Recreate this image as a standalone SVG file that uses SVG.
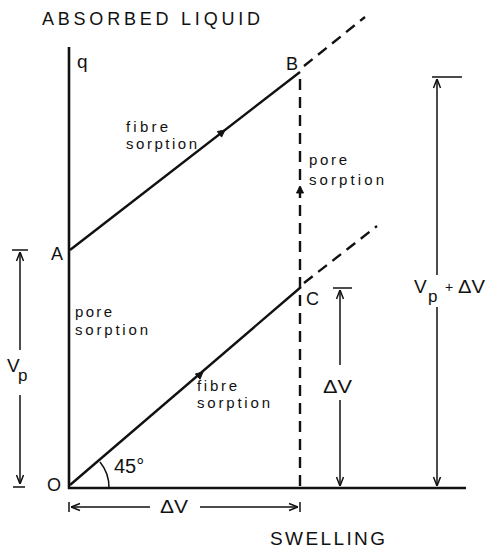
<svg xmlns="http://www.w3.org/2000/svg" width="485" height="549" viewBox="0 0 485 549">
<defs>
<style>
.t{font-family:"Liberation Sans",Arial,sans-serif;fill:#111}
.lb{font-family:"Liberation Sans",Arial,sans-serif;fill:#111;font-size:15px}
.ax{stroke:#111;stroke-width:2.6;fill:none;stroke-linecap:butt}
.ln{stroke:#111;stroke-width:2.4;fill:none}
.ds{stroke:#111;stroke-width:2.4;fill:none;stroke-dasharray:11 7}
.dm{stroke:#111;stroke-width:1.5;fill:none}
.ah{fill:#111;stroke:#111;stroke-width:1;stroke-linejoin:miter}
</style>
<marker id="arr" viewBox="0 0 10 10" refX="10" refY="5" markerWidth="10" markerHeight="10" markerUnits="userSpaceOnUse" orient="auto-start-reverse">
<path d="M1,1.5 L10,5 L1,8.5" fill="none" stroke="#111" stroke-width="1.5"/>
</marker>
</defs>
<rect width="485" height="549" fill="#fff"/>

<g id="titles">
<text class="t" x="42" y="25" font-size="18" textLength="218" lengthAdjust="spacing">ABSORBED LIQUID</text>
<text class="t" x="270" y="545" font-size="19" textLength="115" lengthAdjust="spacing">SWELLING</text>
</g>

<g id="axes">
<line class="ax" x1="69" y1="47" x2="69" y2="489"/>
<line class="ax" x1="68" y1="488" x2="466" y2="488"/>
<text class="t" x="77" y="68" font-size="19">q</text>
<text class="t" x="47" y="491" font-size="18">O</text>
</g>

<g id="connectors">
<line class="ln" x1="70" y1="250" x2="300" y2="72"/>
<line class="ln" x1="70" y1="485" x2="301" y2="287"/>
<line class="ds" x1="304" y1="66" x2="365" y2="17"/>
<line class="ds" x1="304" y1="283" x2="377" y2="226"/>
<line class="ds" x1="300" y1="79" x2="300" y2="488"/>
<path class="ah" d="M225,130 L221.6,137.1 L217.3,131.5 Z"/>
<path class="ah" d="M203,372 L200,379.2 L195.4,373.9 Z"/>
<path class="ah" d="M300,186 L303.5,193 L296.5,193 Z"/>
<path class="dm" d="M109,488 A40,40 0 0 0 100,462"/>
</g>

<g id="node-A"><text class="t" x="51" y="260" font-size="18">A</text></g>
<g id="node-B"><text class="t" x="286" y="70" font-size="18">B</text></g>
<g id="node-C"><text class="t" x="306" y="305" font-size="18">C</text></g>

<g id="labels">
<text class="lb" x="126" y="132" textLength="42" lengthAdjust="spacing">fibre</text>
<text class="lb" x="126" y="149" textLength="71" lengthAdjust="spacing">sorption</text>
<text class="lb" x="197" y="391" textLength="40" lengthAdjust="spacing">fibre</text>
<text class="lb" x="197" y="408" textLength="73" lengthAdjust="spacing">sorption</text>
<text class="lb" x="75" y="317" textLength="37" lengthAdjust="spacing">pore</text>
<text class="lb" x="75" y="335" textLength="73" lengthAdjust="spacing">sorption</text>
<text class="lb" x="309" y="165" textLength="38" lengthAdjust="spacing">pore</text>
<text class="lb" x="309" y="185" textLength="75" lengthAdjust="spacing">sorption</text>
<text class="t" x="114" y="473" font-size="20">45°</text>
</g>

<g id="dim-Vp">
<line class="dm" x1="12" y1="250" x2="28" y2="250"/>
<line class="dm" x1="20" y1="350" x2="20" y2="252" marker-end="url(#arr)"/>
<line class="dm" x1="20" y1="395" x2="20" y2="484" marker-end="url(#arr)"/>
<line class="dm" x1="13" y1="487" x2="25" y2="487"/>
<text class="t" x="7" y="372" font-size="19">V</text>
<text class="t" x="18" y="381" font-size="17">p</text>
</g>

<g id="dim-dV">
<line class="dm" x1="333" y1="288" x2="352" y2="288"/>
<line class="dm" x1="340" y1="365" x2="340" y2="290" marker-end="url(#arr)"/>
<line class="dm" x1="340" y1="400" x2="340" y2="486" marker-end="url(#arr)"/>
<text class="t" x="323" y="393" font-size="19" textLength="29" lengthAdjust="spacingAndGlyphs">ΔV</text>
</g>

<g id="dim-VpdV">
<line class="dm" x1="432" y1="77" x2="462" y2="77"/>
<line class="dm" x1="437" y1="275" x2="437" y2="79" marker-end="url(#arr)"/>
<line class="dm" x1="437" y1="307" x2="437" y2="486" marker-end="url(#arr)"/>
<text class="t" x="414" y="293" font-size="19">V</text>
<text class="t" x="428" y="302" font-size="17">p</text>
<text class="t" x="445" y="292" font-size="14">+</text>
<text class="t" x="458" y="293" font-size="19" textLength="27" lengthAdjust="spacingAndGlyphs">ΔV</text>
</g>

<g id="dim-bottom">
<line class="dm" x1="69" y1="502" x2="69" y2="512"/>
<line class="dm" x1="300" y1="502" x2="300" y2="512"/>
<line class="dm" x1="150" y1="507" x2="71" y2="507" marker-end="url(#arr)"/>
<line class="dm" x1="200" y1="507" x2="298" y2="507" marker-end="url(#arr)"/>
<text class="t" x="160" y="513" font-size="19" textLength="28" lengthAdjust="spacingAndGlyphs">ΔV</text>
</g>
</svg>
